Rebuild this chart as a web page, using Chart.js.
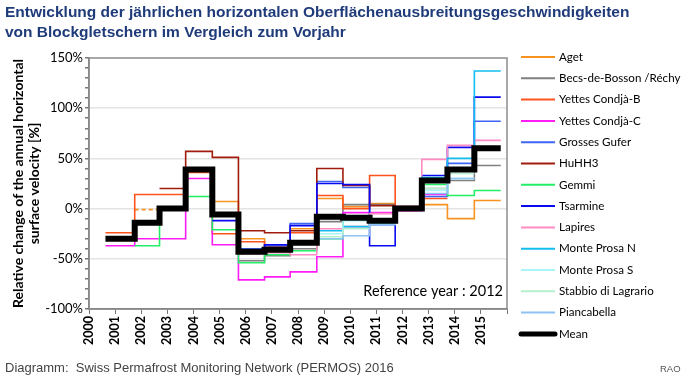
<!DOCTYPE html>
<html>
<head>
<meta charset="utf-8">
<script src="https://cdn.jsdelivr.net/npm/chart.js@4.4.1/dist/chart.umd.min.js"></script>
<style>
  body { margin: 0; background: #fff; width: 684px; height: 380px; position: relative; overflow: hidden; font-family: "Liberation Sans", Arial, sans-serif; }
  #title { position: absolute; left: 5px; top: 2px; color: #1f3b7a; font-weight: bold; font-size: 15.5px; line-height: 20px; white-space: nowrap; }
  #foot { position: absolute; left: 5px; top: 360px; color: #444; font-size: 13px; white-space: pre; }
  #rao { position: absolute; left: 660px; top: 363px; color: #555; font-size: 9.5px; }
  #wrap { position: absolute; left: 0; top: 0; width: 684px; height: 380px; }
</style>
</head>
<body>
<div id="wrap"><canvas id="chart" width="684" height="380"></canvas></div>
<div id="title">Entwicklung der jährlichen horizontalen Oberflächenausbreitungsgeschwindigkeiten<br>von Blockgletschern im Vergleich zum Vorjahr</div>
<div id="foot">Diagramm:  Swiss Permafrost Monitoring Network (PERMOS) 2016</div>
<div id="rao">RAO</div>
<script>
// one value per period 2001 ... 2015 (relative change to previous year, %)
const years = [2001, 2002, 2003, 2004, 2005, 2006, 2007, 2008, 2009, 2010, 2011, 2012, 2013, 2014, 2015];
// x positions where the steps change (start of 2001 period ... end of 2015 period)
const stepX = [2000.63, 2001.75, 2002.7, 2003.7, 2004.72, 2005.72, 2006.72, 2007.7, 2008.72, 2009.72, 2010.74, 2011.72, 2012.74, 2013.72, 2014.75, 2015.76];
const xTicks = [2000, 2001, 2002, 2003, 2004, 2005, 2006, 2007, 2008, 2009, 2010, 2011, 2012, 2013, 2014, 2015];
const yTicks = [-100, -50, 0, 50, 100, 150];

const aget        = [null, -1, -1, 40, 7, -30, -36, -20, 10, 2, 5, 1, 4, -10, 8];
const agetDashed  = [2002];
const becs        = [null, null, null, null, null, -52, -47, -40, -13, 4, 4, 2, 20, 28, 43];
const yettesB     = [-24, 14, 14, 36, -25, -33, -38, -24, 13, 0, 33, 2, 10, null, null];
const yettesC     = [-37, -30, -30, 30, -36, -71, -68, -63, -48, -4, -4, -2, 14, null, null];
const grosses     = [null, null, null, null, null, -40, -37, -15, 27, 21, -16, 0, 12, 45, 87];
const huhh3       = [null, null, 20, 57, 51, -22, -24, -22, 40, 23, 3, 0, null, null, null];
const gemmi       = [null, -37, 0, 12, -21, -54, -46, -42, -30, -10, -12, 0, 24, 13, 18];
const tsarmine    = [null, null, null, null, -12, -42, -36, -17, 25, 24, -37, 0, 33, 61, 111];
const lapires     = [null, null, null, null, null, -45, -44, -46, -20, -18, -5, 2, 49, 63, 68];
const prosaN      = [null, null, null, null, null, null, null, null, -22, -18, -15, 0, 31, 50, 137];
const prosaS      = [null, null, null, null, null, null, null, null, -25, -12, -14, 0, 18, 30, null];
const stabbio     = [null, null, null, null, null, null, null, null, -28, -20, -13, 0, 20, 35, null];
const piancabella = [null, null, null, null, null, null, null, null, -30, -27, -16, 0, 15, 30, null];
const mean        = [-30, -14, 0, 39, -6, -43, -41, -34, -8, -9, -12, 0, 28, 39, 60];

function stepData(vals) {
  const pts = [];
  vals.forEach((v, k) => {
    if (v === null) { pts.push({ x: stepX[k], y: null }); return; }
    pts.push({ x: stepX[k], y: v }, { x: stepX[k + 1], y: v });
  });
  return pts;
}

const series = [
  { label: "Aget", data: aget, color: "#f7931e" },
  { label: "Becs-de-Bosson /Réchy", data: becs, color: "#7f7f7f" },
  { label: "Yettes Condjà-B", data: yettesB, color: "#ff531c" },
  { label: "Yettes Condjà-C", data: yettesC, color: "#ff1cf5" },
  { label: "Grosses Gufer", data: grosses, color: "#3d66f5" },
  { label: "HuHH3", data: huhh3, color: "#a01c0c" },
  { label: "Gemmi", data: gemmi, color: "#22ee66" },
  { label: "Tsarmine", data: tsarmine, color: "#0a0af2" },
  { label: "Lapires", data: lapires, color: "#ff8cc2" },
  { label: "Monte Prosa N", data: prosaN, color: "#12bdf0" },
  { label: "Monte Prosa S", data: prosaS, color: "#a8f4f6" },
  { label: "Stabbio di Lagrario", data: stabbio, color: "#b5efcd" },
  { label: "Piancabella", data: piancabella, color: "#8ec2f3" },
];

const datasets = series.map((s, i) => ({
  label: s.label,
  data: stepData(s.data),
  borderColor: s.color,
  borderWidth: 1.6,
  pointRadius: 0,
  fill: false,
  order: series.length - i,
  segment: s.label === "Aget" ? {
    borderDash: (c) => {
      const k = stepX.indexOf(c.p0.parsed.x);
      return k >= 0 && agetDashed.includes(years[k]) && c.p0.parsed.y === c.p1.parsed.y ? [4, 3] : undefined;
    },
  } : undefined,
}));
datasets.push({
  label: "Mean",
  data: stepData(mean),
  borderColor: "#000",
  borderWidth: 6,
  pointRadius: 0,
  fill: false,
  order: 0,
  borderJoinStyle: "miter",
});

const sideLegend = {
  id: "sideLegend",
  afterDraw(chart) {
    const ctx = chart.ctx;
    ctx.save();
    chart.data.datasets.forEach((ds, i) => {
      const y = 57 + i * 21.3;
      ctx.strokeStyle = ds.borderColor;
      ctx.lineWidth = ds.borderWidth === 6 ? 5 : 2;
      ctx.lineCap = ds.borderWidth === 6 ? "round" : "butt";
      ctx.beginPath();
      ctx.moveTo(521, y);
      ctx.lineTo(555, y);
      ctx.stroke();
      ctx.fillStyle = "#000";
      ctx.font = "11.6px Lato";
      ctx.textBaseline = "middle";
      ctx.fillText(ds.label, 559, y);
    });
    ctx.restore();
  },
};

const frame = {
  id: "frame",
  beforeDatasetsDraw(chart) {
    const a = chart.chartArea;
    const ctx = chart.ctx;
    ctx.save();
    ctx.strokeStyle = "#8c8c8c";
    ctx.lineWidth = 1.5;
    ctx.strokeRect(a.left, a.top, a.right - a.left, a.bottom - a.top);
    ctx.restore();
  },
  afterDatasetsDraw(chart) {
    const a = chart.chartArea;
    const ctx = chart.ctx;
    ctx.save();
    ctx.fillStyle = "#000";
    ctx.font = "14.5px Lato";
    ctx.textAlign = "right";
    ctx.textBaseline = "middle";
    ctx.fillText("Reference year : 2012", a.right - 4, chart.scales.y.getPixelForValue(-82));
    ctx.restore();
  },
};

new Chart(document.getElementById("chart"), {
  type: "line",
  data: { datasets: datasets },
  plugins: [sideLegend, frame],
  options: {
    responsive: false,
    animation: false,
    layout: { padding: { top: 58, right: 177, left: 0, bottom: 0 } },
    plugins: { legend: { display: false }, tooltip: { enabled: false } },
    scales: {
      x: {
        type: "linear",
        min: 2000,
        max: 2016,
        afterFit: (scale) => { scale.height = 71; },
        afterBuildTicks: (scale) => { scale.ticks = xTicks.concat([2016]).map((v) => ({ value: v })); },
        ticks: {
          autoSkip: false,
          minRotation: 90,
          maxRotation: 90,
          padding: 2,
          color: "#000",
          font: { family: "Lato", size: 12.5, weight: "bold" },
          callback: (v) => (xTicks.includes(v) ? String(v) : ""),
        },
        grid: { drawOnChartArea: false, tickLength: 5, color: "#777" },
        border: { color: "#777", width: 1.5 },
      },
      y: {
        min: -100,
        max: 150,
        afterFit: (scale) => { scale.width = 89; },
        ticks: {
          stepSize: 10,
          autoSkip: false,
          padding: 2,
          color: "#000",
          font: { family: "Lato", size: 13 },
          callback: (v) => (yTicks.includes(v) ? v + "%" : ""),
        },
        grid: {
          tickLength: 4,
          lineWidth: 1.5,
          color: (c) => (c.tick && [-50, 0, 50, 100].includes(c.tick.value) ? "#e4e4e4" : "rgba(0,0,0,0)"),
          tickColor: "#777",
        },
        border: { color: "#777", width: 1.5 },
        title: {
          display: true,
          text: ["Relative change of the annual horizontal", "surface velocity [%]"],
          color: "#000",
          font: { family: "Lato", size: 14, weight: "bold", lineHeight: 1.15 },
          padding: { top: 10, bottom: 0 },
        },
      },
    },
  },
});
</script>
</body>
</html>
